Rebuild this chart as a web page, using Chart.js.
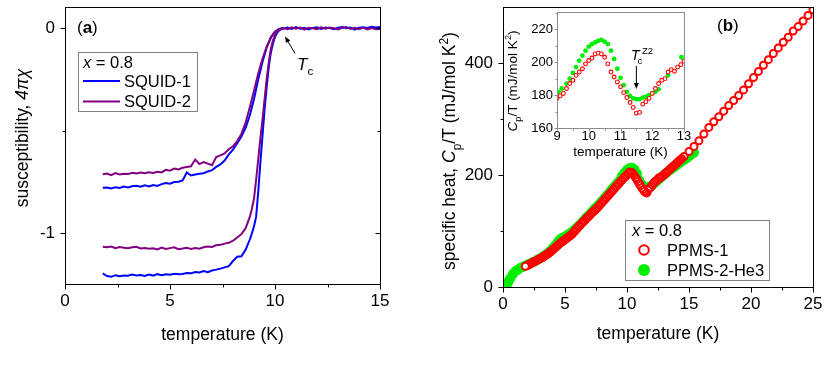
<!DOCTYPE html>
<html><head><meta charset="utf-8">
<script src="https://cdn.jsdelivr.net/npm/chart.js@4.4.1/dist/chart.umd.min.js"></script>
<style>
html,body{margin:0;padding:0;background:#fff;width:830px;height:369px;overflow:hidden;}
canvas{position:absolute;display:block;}
</style></head><body>
<canvas id="ca" width="420" height="369" style="left:0;top:0;width:420px;height:369px"></canvas>
<canvas id="cb" width="410" height="369" style="left:420px;top:0;width:410px;height:369px"></canvas>
<canvas id="ci" width="210" height="170" style="left:490px;top:0;width:210px;height:170px"></canvas>
<script>
// ---------------- Panel (a): susceptibility ----------------
const tFc = [1.8,2.0,2.2,2.4,2.6,2.8,3.0,3.2,3.4,3.6,3.8,4.0,4.2,4.4,4.6,4.8,5.0,5.2,5.4,5.6,5.8,6.0,6.2,6.4,6.6,6.8,7.0,7.2,7.4,7.6,7.8,8.0,8.2,8.4,8.6,8.8,9.0,9.2,9.4,9.6,9.8,10.0,10.2,10.4];
const squid1Fc = [-0.778,-0.776,-0.781,-0.775,-0.779,-0.772,-0.776,-0.770,-0.768,-0.773,
  -0.766,-0.771,-0.764,-0.769,-0.760,-0.754,-0.758,-0.750,-0.748,-0.742,
  -0.703,-0.718,-0.713,-0.709,-0.707,-0.698,-0.692,-0.676,-0.664,-0.645,
  -0.615,-0.592,-0.560,-0.528,-0.485,-0.425,-0.345,-0.250,-0.165,-0.095,
  -0.045,-0.015,-0.003,0.002];
const squid2Fc = [-0.712,-0.708,-0.716,-0.706,-0.713,-0.709,-0.711,-0.705,-0.708,-0.703,
  -0.707,-0.702,-0.706,-0.700,-0.703,-0.690,-0.694,-0.684,-0.688,-0.680,
  -0.676,-0.673,-0.640,-0.662,-0.652,-0.660,-0.668,-0.628,-0.620,-0.610,
  -0.590,-0.575,-0.550,-0.515,-0.460,-0.385,-0.305,-0.220,-0.150,-0.090,
  -0.045,-0.018,-0.004,0.001];
const tZfc = [1.8,2.0,2.2,2.4,2.6,2.8,3.0,3.2,3.4,3.6,3.8,4.0,4.2,4.4,4.6,4.8,5.0,5.2,5.4,5.6,5.8,6.0,6.2,6.4,6.6,6.8,7.0,7.2,7.4,7.6,7.8,8.0,8.2,8.4,8.6,8.8,
  8.9,9.0,9.1,9.2,9.3,9.4,9.5,9.6,9.7,9.8,9.9,10.0,10.1,10.2,10.3,10.4,
  10.6,10.8,11.0,11.2,11.4,11.6,11.8,12.0,12.2,12.4,12.6,12.8,13.0,13.2,13.4,13.6,13.8,14.0,14.2,14.4,14.6,14.8,15.0];
const squid1Zfc = [-1.195,-1.208,-1.212,-1.204,-1.209,-1.206,-1.207,-1.201,-1.205,-1.203,
  -1.208,-1.201,-1.206,-1.199,-1.204,-1.200,-1.202,-1.197,-1.200,-1.198,
  -1.193,-1.195,-1.189,-1.191,-1.184,-1.189,-1.181,-1.177,-1.172,-1.166,
  -1.160,-1.135,-1.114,-1.112,-1.080,-1.030,
  -1.000,-0.965,-0.920,-0.800,-0.660,-0.530,-0.400,-0.290,-0.190,-0.120,-0.075,-0.042,-0.022,-0.010,-0.004,-0.001,
  0.004,-0.003,0.006,-0.002,0.003,-0.005,0.002,0.005,-0.003,0.004,0.001,-0.004,0.003,0.006,0.000,0.004,-0.006,0.003,0.005,0.002,0.007,0.004,0.006];
const squid2Zfc = [-1.065,-1.068,-1.064,-1.072,-1.067,-1.070,-1.073,-1.068,-1.066,-1.074,
  -1.071,-1.075,-1.073,-1.078,-1.069,-1.076,-1.072,-1.068,-1.077,-1.074,
  -1.070,-1.076,-1.072,-1.075,-1.068,-1.064,-1.066,-1.058,-1.056,-1.050,
  -1.046,-1.036,-1.020,-1.004,-0.975,-0.920,
  -0.880,-0.830,-0.740,-0.640,-0.540,-0.450,-0.350,-0.250,-0.170,-0.100,-0.060,-0.032,-0.016,-0.007,-0.002,0.001,
  -0.004,0.005,-0.002,0.004,-0.006,0.003,0.000,-0.004,0.005,-0.002,0.004,0.001,-0.005,0.002,0.006,-0.003,0.003,-0.004,0.002,-0.006,0.001,-0.005,-0.003];
const aSeriesNames = ['SQUID-1','SQUID-2'];
const aXTicks = [0,5,10,15];
const aXMinor = [2.5,7.5,12.5];
const aYTicks = [-1,0];
const aYMinor = [-0.5];

// ---------------- Panel (b): specific heat ----------------
const ppms1T = [1.8,1.9,2.0,2.1,2.2,2.3,2.4,2.5,2.6,2.7,
  2.8,2.9,3.0,3.1,3.2,3.3,3.4,3.5,3.6,3.7,
  3.8,3.9,4.0,4.1,4.2,4.3,4.4,4.5,4.6,4.7,
  4.8,4.9,5.0,5.1,5.2,5.3,5.4,5.5,5.6,5.7,
  5.8,5.9,6.0,6.1,6.2,6.3,6.4,6.5,6.6,6.7,
  6.8,6.9,7.0,7.1,7.2,7.3,7.4,7.5,7.6,7.7,
  7.8,7.9,8.0,8.1,8.2,8.3,8.4,8.5,8.6,8.7,
  8.8,8.9,9.0,9.1,9.2,9.3,9.4,9.5,9.6,9.7,
  9.8,9.9,10.0,10.1,10.2,10.3,10.4,10.5,10.6,10.7,
  10.8,10.9,11.0,11.1,11.2,11.3,11.4,11.5,11.6,11.7,
  11.8,11.9,12.0,12.1,12.2,12.3,12.4,12.5,12.6,12.7,
  12.8,12.9,13.0,13.1,13.2,13.3,13.4,13.5,13.6,13.7,
  13.8,13.9,14.0,14.1,14.2,14.3,14.4,
  14.6,15.0,15.4,15.8,16.2,16.6,17.0,17.4,17.8,18.2,18.6,19.0,19.4,19.8,20.2,20.6,21.0,21.4,21.8,22.2,22.6,23.0,23.4,23.8,24.2,24.6,25.0];
const ppms1V = [37,38,39,40,41,43,44,45,46,47,
  48,50,51,52,53,55,56,58,59,61,
  62,64,66,68,70,72,74,76,78,80,
  81,83,85,86,88,90,91,93,95,98,
  100,103,105,108,110,113,115,117,119,122,
  124,126,128,131,133,135,137,139,141,144,
  146,149,151,154,156,159,161,164,166,169,
  171,174,176,179,181,184,186,189,191,194,
  196,198,200,203,205,205,204,202,199,195,
  192,188,184,181,177,174,171,169,168,173,
  176,178,181,184,187,189,190,193,195,195,
  197,199,200,203,205,207,209,211,213,215,
  217,219,221,223,225,227,229,
  233,242,251,261,273,285,295,304,314,324,333,342,352,363,374,385,396,406,417,427,437,446,457,465,475,485,495];
const ppms2T = [0.3,0.4,0.5,0.6,0.8,1.0,1.2,1.4,1.6,1.8,2.0,2.2,2.4,2.6,2.8,3.0,3.2,3.4,3.6,3.8,4.0,4.2,4.4,4.6,4.8,5.0,5.2,5.4,5.6,5.8,
  6.0,6.2,6.4,6.6,6.8,7.0,7.2,7.4,7.6,7.8,8.0,8.2,8.4,8.6,8.8,9.0,9.2,9.4,9.6,9.8,10.0,10.2,10.4,10.6,10.8,11.0,11.2,11.4,11.6,11.8,
  12.0,12.2,12.4,12.6,12.8,13.0,13.2,13.4,13.6,13.8,14.0,14.2,14.4,14.6,14.8,15.0,15.2,15.4];
const ppms2V = [4,8,12,16,23,28,31,34,36,38,40,42,44,46,49,51,54,57,60,64,69,74,80,85,88,90,93,96,99,103,
  107,111,116,121,126,130,135,140,144,149,154,159,164,169,175,180,185,190,198,204,209,212,213,210,202,190,183,178,177,179,
  181,185,189,193,197,201,204,208,211,214,217,221,224,227,230,233,237,240];
const bSeriesNames = ['PPMS-1','PPMS-2-He3'];
const bXTicks = [0,5,10,15,20,25];
const bXMinor = [2.5,7.5,12.5,17.5,22.5];
const bYTicks = [0,200,400];
const bYMinor = [100,300];

// ---------------- Inset ----------------
const insRedT = [9.0,9.1,9.2,9.3,9.4,9.5,9.6,9.7,9.8,9.9,10.0,10.1,10.2,10.3,10.4,10.5,10.6,10.7,10.8,10.9,
  11.0,11.1,11.2,11.3,11.4,11.5,11.6,11.7,11.8,11.9,12.0,12.1,12.2,12.3,12.4,12.5,12.6,12.7,12.8,12.9,13.0];
const insRedV = [178,179.5,181,184,187,189,192,194,196,199,201,202.5,205,205.5,205,203,199,194,191,188,
  185,181.5,178.5,175.5,172.5,169,169.5,174.5,176,178,181,184,187,189,190,194,195.5,194.5,197,198.5,200.5];
const insGreenT = [9.05,9.15,9.3,9.4,9.5,9.6,9.7,9.8,9.9,10.0,10.1,10.2,10.3,10.4,10.5,10.6,10.7,10.8,10.9,11.0,
  11.1,11.2,11.3,11.4,11.5,11.6,11.7,11.8,11.9,12.0,12.1,12.2,12.5,12.92];
const insGreenV = [182,184,187,190,193.5,197,201,204,207,209.5,211,212,213,213.5,212.5,211,207,202,196,190.5,
  186,182,179.5,178,177.5,177.5,178.5,179,180,181,182,183.5,192,203];
const iXTicks = [9,10,11,12,13];
const iXMinor = [9.5,10.5,11.5,12.5];
const iYTicks = [160,180,200,220];
const iYMinor = [170,190,210,230];

// ---------------- helpers ----------------
const FAM = "'Liberation Sans', Arial, Helvetica, sans-serif";
Chart.defaults.font.family = FAM;
Chart.defaults.color = '#000';
const pts = (xs, ys) => xs.map((x, i) => ({x: x, y: ys[i]}));

function drawRich(ctx, segs, x, y, size, align, rot, color) {
  ctx.save();
  ctx.translate(x, y);
  if (rot) ctx.rotate(rot);
  ctx.textBaseline = 'alphabetic'; ctx.textAlign = 'left'; ctx.fillStyle = color || '#000';
  const items = segs.map(s => {
    const sz = (s.sub || s.sup) ? size * 0.68 : size;
    const font = (s.i ? 'italic ' : '') + (s.b ? 'bold ' : '') + sz.toFixed(1) + 'px ' + FAM;
    ctx.font = font;
    return {t: s.t, font: font, w: ctx.measureText(s.t).width,
      dy: s.sub ? size * 0.3 : (s.sup ? -size * 0.42 : 0), dx: s.dx || 0};
  });
  const total = items.reduce((acc, it) => acc + it.w + it.dx, 0);
  let cx = align === 'center' ? -total / 2 : (align === 'right' ? -total : 0);
  const base = size * 0.36;
  for (const it of items) { cx += it.dx; ctx.font = it.font; ctx.fillText(it.t, cx, base + it.dy); cx += it.w; }
  ctx.restore();
}

function arrow(ctx, x1, y1, x2, y2, head, hw) {
  const ang = Math.atan2(y2 - y1, x2 - x1);
  ctx.save();
  ctx.strokeStyle = '#000'; ctx.fillStyle = '#000'; ctx.lineWidth = 1;
  ctx.beginPath();
  ctx.moveTo(x1, y1);
  ctx.lineTo(x2 - Math.cos(ang) * head * 0.8, y2 - Math.sin(ang) * head * 0.8);
  ctx.stroke();
  ctx.beginPath();
  ctx.moveTo(x2, y2);
  ctx.lineTo(x2 - Math.cos(ang) * head - Math.sin(ang) * hw, y2 - Math.sin(ang) * head + Math.cos(ang) * hw);
  ctx.lineTo(x2 - Math.cos(ang) * head + Math.sin(ang) * hw, y2 - Math.sin(ang) * head - Math.cos(ang) * hw);
  ctx.closePath(); ctx.fill();
  ctx.restore();
}

function drawFrameTicks(chart, sp) {
  const ctx = chart.ctx, a = chart.chartArea, xs = chart.scales.x, ys = chart.scales.y;
  const L = Math.round(a.left) + 0.5, R = Math.round(a.right) + 0.5, T = Math.round(a.top) + 0.5, B = Math.round(a.bottom) + 0.5;
  ctx.save();
  ctx.lineWidth = 1;
  ctx.strokeStyle = sp.color;
  ctx.strokeRect(L, T, R - L, B - T);
  ctx.beginPath();
  const xsets = [[sp.xMajor, sp.major], [sp.xMinor, sp.minor]];
  const ysets = [[sp.yMajor, sp.major], [sp.yMinor, sp.minor]];
  for (const [vals, len] of xsets) for (const v of vals) {
    const p = Math.round(xs.getPixelForValue(v)) + 0.5;
    ctx.moveTo(p, B); ctx.lineTo(p, B + len);
  }
  for (const [vals, len] of ysets) for (const v of vals) {
    const p = Math.round(ys.getPixelForValue(v)) + 0.5;
    ctx.moveTo(L, p); ctx.lineTo(L - len, p);
    if (sp.rightIn) { ctx.moveTo(R, p); ctx.lineTo(R - len, p); }
  }
  ctx.stroke();
  ctx.restore();
}

function lin(min, max, ticksArr, size, pad, fit, isX) {
  return {
    type: 'linear', min: min, max: max,
    grid: {display: false, drawTicks: false},
    border: {display: false},
    ticks: {font: {size: size, family: FAM}, color: '#000', padding: pad, autoSkip: false, maxRotation: 0,
      callback: v => String(v)},
    afterBuildTicks: s => { s.ticks = ticksArr.map(v => ({value: v})); },
    afterFit: s => {
      if (isX) s.height = fit; else s.width = fit;
      s.paddingTop = 0; s.paddingBottom = 0; s.paddingLeft = 0; s.paddingRight = 0;
    }
  };
}
const baseOpts = {responsive: false, animation: false, events: [],
  plugins: {legend: {display: false}, tooltip: {enabled: false}}};

// ---------------- Chart (a) ----------------
new Chart(document.getElementById('ca'), {
  type: 'scatter',
  data: {datasets: [
    {label: aSeriesNames[0], data: pts(tZfc, squid1Zfc), showLine: true, pointRadius: 0, borderColor: '#0000ff', borderWidth: 2, order: 2},
    {label: aSeriesNames[0], data: pts(tFc, squid1Fc), showLine: true, pointRadius: 0, borderColor: '#0000ff', borderWidth: 2, order: 2},
    {label: aSeriesNames[1], data: pts(tZfc, squid2Zfc), showLine: true, pointRadius: 0, borderColor: '#800080', borderWidth: 2, order: 1},
    {label: aSeriesNames[1], data: pts(tFc, squid2Fc), showLine: true, pointRadius: 0, borderColor: '#800080', borderWidth: 2, order: 1}
  ]},
  options: Object.assign({}, baseOpts, {
    layout: {padding: {top: 7, right: 40, left: 0, bottom: 0}},
    scales: {x: lin(0, 15, aXTicks, 17, 7, 85, true), y: lin(-1.247, 0.104, aYTicks, 17, 10, 65, false)}
  }),
  plugins: [{id: 'decorA', afterDraw(chart) {
    const ctx = chart.ctx, a = chart.chartArea, xs = chart.scales.x, ys = chart.scales.y;
    drawFrameTicks(chart, {color: '#000', major: 5, minor: 3, xMajor: aXTicks, xMinor: aXMinor, yMajor: aYTicks, yMinor: aYMinor, rightIn: true});
    drawRich(ctx, [{t: 'susceptibility, '}, {t: '4\u03C0\u03C7', i: true}], 22, 138, 17.5, 'center', -Math.PI / 2);
    drawRich(ctx, [{t: 'temperature (K)'}], (a.left + a.right) / 2, 334, 17.5, 'center');
    drawRich(ctx, [{t: '('}, {t: 'a', b: true}, {t: ')'}], 77, 27, 17, 'left');
    // legend
    ctx.save(); ctx.strokeStyle = '#808080'; ctx.lineWidth = 1; ctx.strokeRect(78.5, 52.5, 119, 59); ctx.restore();
    drawRich(ctx, [{t: 'x', i: true}, {t: ' = 0.8'}], 83, 62, 16.5, 'left');
    const ds = chart.data.datasets;
    [[ds[0], 81], [ds[2], 101.5]].forEach(([d, y]) => {
      ctx.save(); ctx.strokeStyle = d.borderColor; ctx.lineWidth = 2;
      ctx.beginPath(); ctx.moveTo(83, y); ctx.lineTo(120, y); ctx.stroke(); ctx.restore();
      drawRich(ctx, [{t: d.label}], 124, y, 16.5, 'left');
    });
    // Tc annotation
    const tx = xs.getPixelForValue(10.48), ty = ys.getPixelForValue(-0.04);
    arrow(ctx, tx + 10, ty + 17, tx, ty, 6, 2.5);
    drawRich(ctx, [{t: 'T', i: true}, {t: 'c', sub: true}], 297, 63.5, 17, 'left');
  }}]
});

// ---------------- Chart (b) ----------------
new Chart(document.getElementById('cb'), {
  type: 'scatter',
  data: {datasets: [
    {label: bSeriesNames[0], data: pts(ppms1T, ppms1V).reverse(), pointRadius: 3.5, pointBorderWidth: 2, pointBorderColor: '#ff0000', pointBackgroundColor: '#ffffff', showLine: false},
    {label: bSeriesNames[1], data: pts(ppms2T, ppms2V), pointRadius: 5, pointBorderWidth: 0, pointBorderColor: '#00ee00', pointBackgroundColor: '#00ee00', showLine: false}
  ]},
  options: Object.assign({}, baseOpts, {
    layout: {padding: {top: 7, right: 17, left: 0, bottom: 0}},
    scales: {x: lin(0, 25, bXTicks, 17, 7, 82, true), y: lin(0, 500, bYTicks, 17, 10, 83, false)}
  }),
  plugins: [{id: 'decorB', afterDraw(chart) {
    const ctx = chart.ctx, a = chart.chartArea;
    drawFrameTicks(chart, {color: '#000', major: 5, minor: 3, xMajor: bXTicks, xMinor: bXMinor, yMajor: bYTicks, yMinor: bYMinor, rightIn: false});
    drawRich(ctx, [{t: 'specific heat, '}, {t: 'C', i: true}, {t: 'p', sub: true}, {t: '/T (mJ/mol K'}, {t: '2', sup: true}, {t: ')'}], 29, 151, 17.5, 'center', -Math.PI / 2);
    drawRich(ctx, [{t: 'temperature (K)'}], (a.left + a.right) / 2, 333, 17.5, 'center');
    drawRich(ctx, [{t: '('}, {t: 'b', b: true}, {t: ')'}], 297, 25, 17, 'left');
    // legend
    ctx.save(); ctx.strokeStyle = '#808080'; ctx.lineWidth = 1; ctx.strokeRect(205.5, 220.5, 144, 60); ctx.restore();
    drawRich(ctx, [{t: 'x', i: true}, {t: ' = 0.8'}], 212, 230.5, 16.5, 'left');
    const ds = chart.data.datasets;
    ctx.save();
    ctx.beginPath(); ctx.arc(224, 250, 4.8, 0, Math.PI * 2);
    ctx.fillStyle = ds[0].pointBackgroundColor; ctx.fill();
    ctx.lineWidth = 2; ctx.strokeStyle = ds[0].pointBorderColor; ctx.stroke();
    ctx.beginPath(); ctx.arc(224, 270, 6, 0, Math.PI * 2);
    ctx.fillStyle = ds[1].pointBackgroundColor; ctx.fill();
    ctx.restore();
    drawRich(ctx, [{t: ds[0].label}], 247, 250, 16.5, 'left');
    drawRich(ctx, [{t: ds[1].label}], 247, 270, 16.5, 'left');
  }}]
});

// ---------------- Inset ----------------
new Chart(document.getElementById('ci'), {
  type: 'scatter',
  data: {datasets: [
    {label: bSeriesNames[0], data: pts(insRedT, insRedV), pointRadius: 1.9, pointBorderWidth: 1.1, pointBorderColor: '#ff0000', pointBackgroundColor: '#ffffff', showLine: false},
    {label: bSeriesNames[1], data: pts(insGreenT, insGreenV), pointRadius: 2.4, pointBorderWidth: 0, pointBorderColor: '#00ee00', pointBackgroundColor: '#00ee00', showLine: false}
  ]},
  options: Object.assign({}, baseOpts, {
    layout: {padding: {top: 12, right: 16, left: 0, bottom: 0}},
    scales: {x: lin(9, 13, iXTicks, 13, 1, 42, true), y: lin(160, 230.5, iYTicks, 13, 4, 67, false)}
  }),
  plugins: [{id: 'decorI', beforeDatasetsDraw(chart) {
    const ctx = chart.ctx, a = chart.chartArea;
    ctx.save(); ctx.fillStyle = '#fff'; ctx.fillRect(a.left, a.top, a.right - a.left, a.bottom - a.top); ctx.restore();
  }, afterDraw(chart) {
    const ctx = chart.ctx, a = chart.chartArea, xs = chart.scales.x, ys = chart.scales.y;
    drawFrameTicks(chart, {color: '#8c8c8c', major: 3, minor: 2, xMajor: iXTicks, xMinor: iXMinor, yMajor: iYTicks, yMinor: iYMinor, rightIn: false});
    drawRich(ctx, [{t: 'C', i: true}, {t: 'p', sub: true}, {t: '/T (mJ/mol K'}, {t: '2', sup: true}, {t: ')'}], 22, 81, 13.5, 'center', -Math.PI / 2);
    drawRich(ctx, [{t: 'temperature (K)'}], (a.left + a.right) / 2, 151.5, 13.5, 'center');
    const tx = xs.getPixelForValue(11.5), ty = ys.getPixelForValue(183.7);
    arrow(ctx, tx, ty - 23, tx, ty, 6, 2.5);
    drawRich(ctx, [{t: 'T', i: true}], 141, 55, 14, 'left');
    drawRich(ctx, [{t: 'c', sub: true}], 147.5, 55, 14, 'left');
    drawRich(ctx, [{t: 'Z2', sup: true}], 152, 55, 14, 'left');
  }}]
});
</script>
</body></html>
